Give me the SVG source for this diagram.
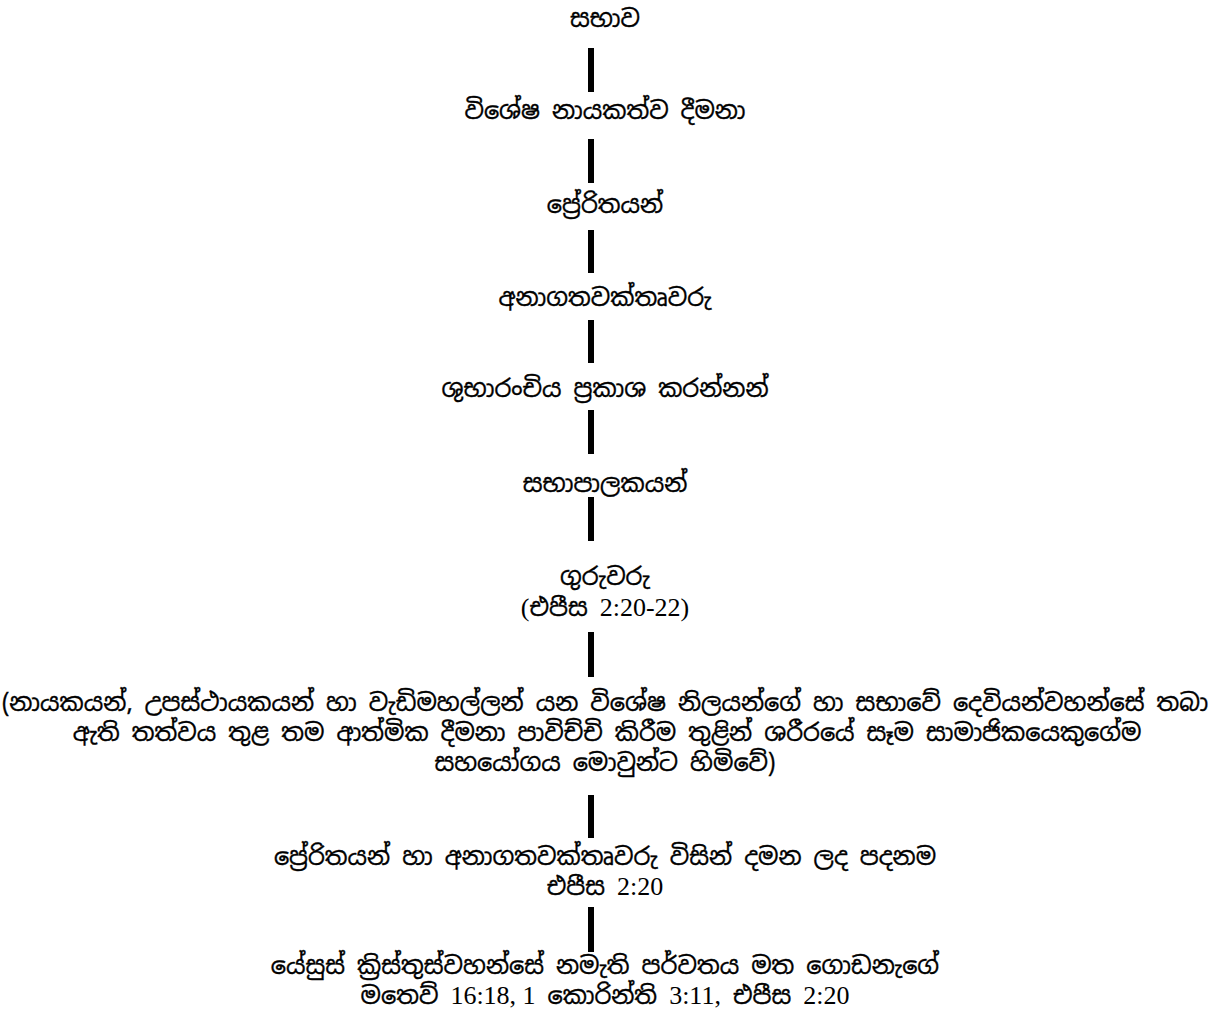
<svg xmlns="http://www.w3.org/2000/svg" width="1218" height="1026" viewBox="0 0 1218 1026">
<style>
.t{font-family:"Noto Sans Sinhala","Noto Serif Sinhala","Iskoola Pota","Lohit Sinhala","LKLUG","Noto Sans",sans-serif;font-size:24px;fill:#000;stroke:#000;stroke-width:0.35;text-anchor:middle}
.n{font-family:"Liberation Serif","Times New Roman",serif;font-size:26px;stroke-width:0}
.bar{fill:#000}
</style>
<rect width="1218" height="1026" fill="#fff"/>
<g id="connectors">
<rect class="bar" x="588" y="48" width="6" height="44"/>
<rect class="bar" x="588" y="139" width="6" height="44"/>
<rect class="bar" x="588" y="230" width="6" height="43"/>
<rect class="bar" x="588" y="320" width="6" height="43"/>
<rect class="bar" x="588" y="410" width="6" height="44"/>
<rect class="bar" x="588" y="497" width="6" height="44"/>
<rect class="bar" x="588" y="632" width="6" height="45"/>
<rect class="bar" x="588" y="795" width="6" height="43"/>
<rect class="bar" x="588" y="907" width="6" height="45"/>
</g>
<g id="n1"><text class="t" x="605" y="27">සභාව</text></g>
<g id="n2"><text class="t" x="605" y="119">විශේෂ නායකත්ව දීමනා</text></g>
<g id="n3"><text class="t" x="605" y="213">ප්‍රේරිතයන්</text></g>
<g id="n4"><text class="t" x="605" y="306">අනාගතවක්තෘවරු</text></g>
<g id="n5"><text class="t" x="605" y="397">ශුභාරංචිය ප්‍රකාශ කරන්නන්</text></g>
<g id="n6"><text class="t" x="605" y="492">සභාපාලකයන්</text></g>
<g id="n7"><text class="t" x="605" y="585">ගුරුවරු</text>
<text class="t" x="605" y="616"><tspan class="n">(</tspan>එපීස <tspan class="n">2:20-22)</tspan></text></g>
<g id="n8"><text class="t" x="605" y="711">(නායකයන්, උපස්ථායකයන් හා වැඩිමහල්ලන් යන විශේෂ නිලයන්ගේ හා සභාවේ දෙවියන්වහන්සේ තබා</text>
<text class="t" x="607" y="741">ඇති තත්වය තුළ තම ආත්මික දීමනා පාවිච්චි කිරීම තුළින් ශරීරයේ සෑම සාමාජිකයෙකුගේම</text>
<text class="t" x="605" y="771">සහයෝගය මොවුන්ට හිමිවේ)</text></g>
<g id="n9"><text class="t" x="605" y="865">ප්‍රේරිතයන් හා අනාගතවක්තෘවරු විසින් දමන ලද පදනම</text>
<text class="t" x="605" y="895">එපීස <tspan class="n">2:20</tspan></text></g>
<g id="n10"><text class="t" x="605" y="974">යේසුස් ක්‍රිස්තුස්වහන්සේ නමැති පර්වතය මත ගොඩනැගේ</text>
<text class="t" x="605" y="1004">මතෙව් <tspan class="n">16:18, 1</tspan> කොරින්ති <tspan class="n">3:11,</tspan> එපීස <tspan class="n">2:20</tspan></text></g>
</svg>
